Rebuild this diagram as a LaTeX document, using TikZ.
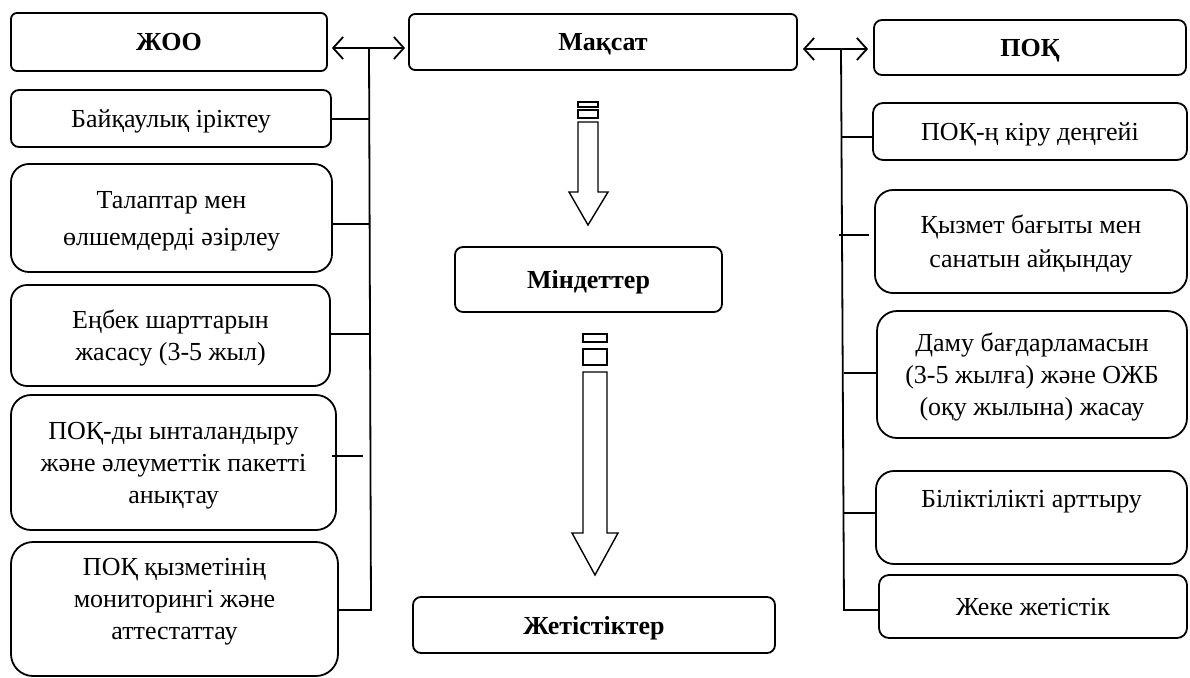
\documentclass[tikz,border=0pt]{standalone}
\usepackage{fontspec}
\setmainfont{Liberation Serif}
\usetikzlibrary{arrows.meta}
\begin{document}
\begin{tikzpicture}[x=1pt,y=-1pt,
  box/.style={draw, line width=1.8pt, rounded corners=#1, inner sep=0pt,
    align=center, text depth=0pt, font=\fontsize{26}{32}\selectfont},
  box/.default=18pt,
  txt/.style={inner sep=0pt, align=center, font=\fontsize{26}{32}\selectfont},
  link/.style={line width=1.8pt},
  dbl/.style={line width=1.8pt, {Straight Barb[length=10pt,width=22pt]}-{Straight Barb[length=10pt,width=22pt]}},
  blockarrow/.style={draw, line width=1.4pt, line join=miter}]
\useasboundingbox (0,0) rectangle (1190,677);

% left column
\node[box=6pt, minimum width=316pt, minimum height=58pt] (joo) at (169,42) {\textbf{ЖОО}};
\node[box=8pt, minimum width=320pt, minimum height=57pt] (b1) at (171,118.5) {Байқаулық іріктеу};
\node[box, minimum width=321pt, minimum height=108pt, font=\fontsize{26}{37}\selectfont] (b2) at (171.5,218) {Талаптар мен\\өлшемдерді әзірлеу};
\node[box=16pt, minimum width=319pt, minimum height=101pt] (b3) at (170.5,335.5) {Еңбек шарттарын\\жасасу (3-5 жыл)};
\node[box=20pt, minimum width=325pt, minimum height=135pt] (b4) at (173.5,462.5) {ПОҚ-ды ынталандыру\\және әлеуметтік пакетті\\анықтау};
\node[box=22pt, minimum width=327pt, minimum height=134pt] (b5) at (174.5,609) {};
\node[txt] (b5t) at (174.5,602) {ПОҚ қызметінің\\мониторингі және\\аттестаттау};

% middle column
\node[box=6pt, minimum width=388pt, minimum height=56pt] (maqsat) at (603,42) {\textbf{Мақсат}};
\node[box=8pt, minimum width=267pt, minimum height=65pt] (mind) at (588.5,279.5) {\textbf{Міндеттер}};
\node[box=8pt, minimum width=362pt, minimum height=56pt] (zhet) at (594,625) {\textbf{Жетістіктер}};

% right column
\node[box=8pt, minimum width=312pt, minimum height=55pt] (poq) at (1030,47.5) {\textbf{ПОҚ}};
\node[box=10pt, minimum width=314pt, minimum height=57pt] (r1) at (1030,131.5) {ПОҚ-ң кіру деңгейі};
\node[box, minimum width=312pt, minimum height=103pt, font=\fontsize{26}{34}\selectfont] (r2) at (1031,241.5) {Қызмет бағыты мен\\санатын айқындау};
\node[box=20pt, minimum width=310pt, minimum height=127pt] (r3) at (1032,374.5) {Даму бағдарламасын\\(3-5 жылға) және ОЖБ\\(оқу жылына) жасау};
\node[box, minimum width=311pt, minimum height=93pt] (r4) at (1031.5,517.5) {};
\node[txt] (r4t) at (1031.5,502) {Біліктілікті арттыру};
\node[box=10pt, minimum width=308pt, minimum height=63pt] (r5) at (1033,606.5) {Жеке жетістік};

% two-way links from the goal
\draw[dbl] ([xshift=4pt]joo.east |- 0,48) -- ([xshift=-3pt]maqsat.west |- 0,48);
\draw[dbl] ([xshift=5pt]maqsat.east |- 0,49) -- ([xshift=-5pt]poq.west |- 0,49);

% left trunk
\coordinate (lt) at (369,48);
\coordinate (lb) at (371,610);
\draw[link] (lt) -- (lb) -- (b5.east |- lb);
\draw[link] (b1.east |- 0,119) -- (lt |- 0,119);
\draw[link] (b2.east |- 0,224) -- (lt |- 0,224);
\draw[link] (b3.east |- 0,334) -- (lt |- 0,334);
\draw[link] ([xshift=-5pt]b4.east |- 0,456) -- ([xshift=-6pt]lt |- 0,456);

% right trunk
\coordinate (rt) at (841,49);
\coordinate (rb) at (844,610);
\draw[link] (rt) -- (rb) -- (r5.west |- rb);
\draw[link] (rt |- 0,137) -- (r1.west |- 0,137);
\draw[link] ([xshift=-2pt]rt |- 0,235) -- ([xshift=-5pt]r2.west |- 0,235);
\draw[link] ([xshift=3pt]rt |- 0,373) -- (r3.west |- 0,373);
\draw[link] ([xshift=3pt]rt |- 0,513) -- ([xshift=2pt]r4.west |- 0,513);

% block arrows down the middle
\draw[blockarrow] (578,102) rectangle (598,107);
\draw[blockarrow] (578,110) rectangle (598,118);
\draw[blockarrow] (578,122) -- (598,122) -- (598,192) -- (608,192) -- (588,225) -- (569,192) -- (578,192) -- cycle;

\draw[blockarrow] (583,334) rectangle (607,342);
\draw[blockarrow] (583,349) rectangle (607,365);
\draw[blockarrow] (583,372) -- (607,372) -- (607,533) -- (618,533) -- (595,575) -- (572,533) -- (583,533) -- cycle;
\end{tikzpicture}
\end{document}
